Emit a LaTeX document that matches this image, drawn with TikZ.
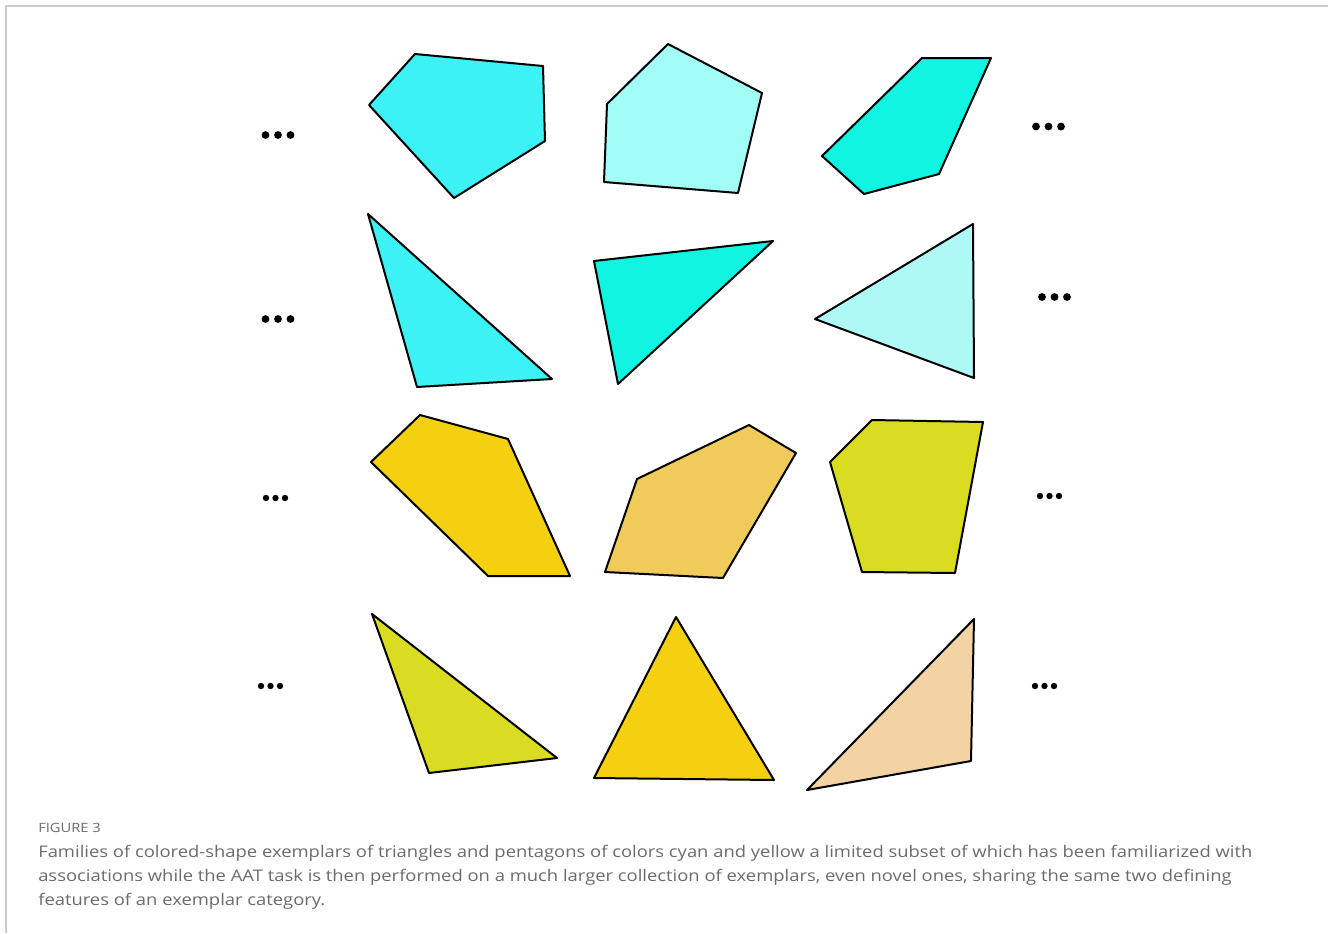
\documentclass[tikz,border=0pt]{standalone}
\usepackage{fontspec}
\setmainfont{Open Sans}
\newfontfamily\capfont[FakeStretch=1.15]{Open Sans}
\definecolor{cyanA}{HTML}{3DF2F5}
\definecolor{cyanB}{HTML}{A2FDF6}
\definecolor{cyanC}{HTML}{10F5E1}
\definecolor{cyanD}{HTML}{AEF8F6}
\definecolor{yelA}{HTML}{F4D010}
\definecolor{yelB}{HTML}{F1CB5A}
\definecolor{yelC}{HTML}{D9DC21}
\definecolor{yelD}{HTML}{F3D3A4}
\definecolor{capgray}{HTML}{6B6B6B}
\definecolor{framegray}{HTML}{CCCCCC}
\tikzset{
  shp/.style={draw=black, line width=1.5pt, line join=round},
  dot/.style={fill=black},
  captxt/.style={anchor=base west, inner sep=0pt, text=capgray, font=\capfont\fontsize{12pt}{18pt}\selectfont},
  figlbl/.style={anchor=base west, inner sep=0pt, text=capgray, font=\capfont\fontsize{9.6pt}{12pt}\selectfont}
}
\newcommand{\dotrow}[3]{%
  \fill[dot] (#1,#2) circle (#3);
  \fill[dot] (#1+12.5,#2) circle (#3);
  \fill[dot] (#1+25,#2) circle (#3);}
\begin{document}
\begin{tikzpicture}[x=0.75pt, y=-0.75pt]
\useasboundingbox (0,0) rectangle (1328,933);
% frame
\draw[framegray, line width=1.1pt] (6,933) -- (6,6) -- (1328,6);
% row 1
\filldraw[shp, fill=cyanA] (415,54) -- (543,66) -- (545,141) -- (454,198) -- (369,105) -- cycle;
\filldraw[shp, fill=cyanB] (668,44) -- (762,93) -- (738,193) -- (604,182) -- (607,104) -- cycle;
\filldraw[shp, fill=cyanC] (922,58) -- (991,58) -- (939,174) -- (864,194) -- (822,156) -- cycle;
% row 2
\filldraw[shp, fill=cyanA] (368,214) -- (552,379) -- (417,387) -- cycle;
\filldraw[shp, fill=cyanC] (594,261) -- (773,241) -- (618,384) -- cycle;
\filldraw[shp, fill=cyanD] (973,224) -- (974,378) -- (815,319) -- cycle;
% row 3
\filldraw[shp, fill=yelA] (420,415) -- (508,439) -- (570,576) -- (488,576) -- (371,462) -- cycle;
\filldraw[shp, fill=yelB] (749,425) -- (796,453) -- (723,578) -- (605,572) -- (637,479) -- cycle;
\filldraw[shp, fill=yelC] (872,420) -- (983,422) -- (955,573) -- (862,572) -- (830,462) -- cycle;
% row 4
\filldraw[shp, fill=yelC] (372,614) -- (557,758) -- (429,773) -- cycle;
\filldraw[shp, fill=yelA] (676,617) -- (774,780) -- (594,778) -- cycle;
\filldraw[shp, fill=yelD] (974,619) -- (971,761) -- (807,790) -- cycle;
% ellipsis dots
\dotrow{265.5}{135}{3.9}
\dotrow{1036}{126.5}{3.9}
\dotrow{265.5}{319}{3.9}
\dotrow{1042}{297}{3.9}
\fill[dot] (266,498) circle (3.2);
\fill[dot] (275.5,498) circle (3.2);
\fill[dot] (285,498) circle (3.2);
\fill[dot] (1040,496) circle (3.2);
\fill[dot] (1049.5,496) circle (3.2);
\fill[dot] (1059,496) circle (3.2);
\fill[dot] (261,686) circle (3.2);
\fill[dot] (270.5,686) circle (3.2);
\fill[dot] (280,686) circle (3.2);
\fill[dot] (1035,686) circle (3.2);
\fill[dot] (1044.5,686) circle (3.2);
\fill[dot] (1054,686) circle (3.2);
% caption
\node[figlbl] (fig) at (38,832) {FIGURE 3};
\node[captxt] (l1) at (38,857.5) {Families of colored-shape exemplars of triangles and pentagons of colors cyan and yellow a limited subset of which has been familiarized with};
\node[captxt] (l2) at (38,881.5) {associations while the AAT task is then performed on a much larger collection of exemplars, even novel ones, sharing the same two defining};
\node[captxt] (l3) at (38,905.5) {features of an exemplar category.};
\end{tikzpicture}
\end{document}
